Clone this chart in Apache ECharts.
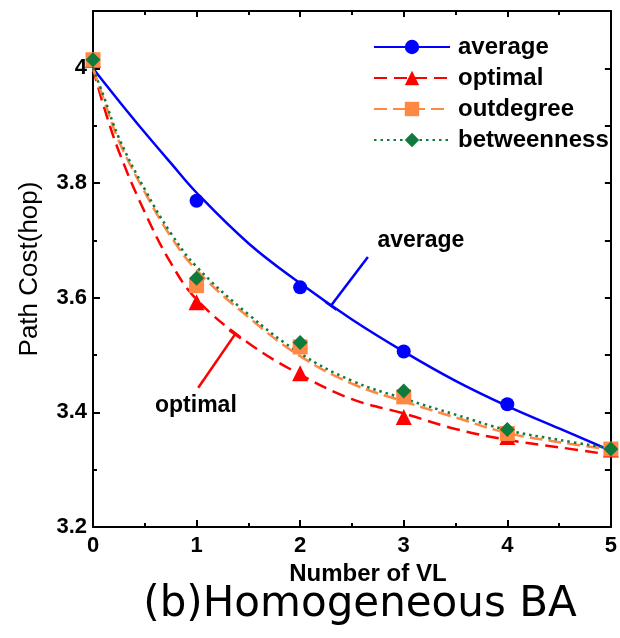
<!DOCTYPE html>
<html>
<head>
<meta charset="utf-8">
<script src="https://cdn.jsdelivr.net/npm/echarts@6/dist/echarts.min.js"></script>
<style>
  html, body { margin: 0; padding: 0; background: #fff; }
  #chart { width: 620px; height: 638px; }
</style>
</head>
<body>
<div id="chart"></div>
<script>
// fitted curves
var curveX = [0, 0.1, 0.25, 0.5, 0.75, 1, 1.5, 2, 2.5, 3, 3.5, 4, 4.5, 5];
var averageCurve     = [4.0, 3.977, 3.943, 3.888, 3.835, 3.783, 3.695, 3.625, 3.562, 3.506, 3.455, 3.411, 3.372, 3.333];
var optimalCurve     = [4.0, 3.936, 3.855, 3.749, 3.661, 3.597, 3.521, 3.466, 3.423, 3.398, 3.371, 3.352, 3.339, 3.326];
var outdegreeCurve   = [4.0, 3.948, 3.873, 3.784, 3.707, 3.648, 3.566, 3.498, 3.450, 3.419, 3.391, 3.364, 3.348, 3.335];
var betweennessCurve = [4.0, 3.953, 3.879, 3.789, 3.713, 3.654, 3.571, 3.503, 3.455, 3.424, 3.396, 3.369, 3.352, 3.337];

// measured points
var vlCount = [0, 1, 2, 3, 4, 5];
var averagePts     = [4.015, 3.769, 3.618, 3.506, 3.414, 3.336];
var optimalPts     = [4.015, 3.592, 3.468, 3.392, 3.357, 3.335];
var outdegreePts   = [4.015, 3.621, 3.514, 3.427, 3.363, 3.336];
var betweennessPts = [4.015, 3.634, 3.522, 3.437, 3.370, 3.336];

// ticks
var yMajorTicks = [3.2, 3.4, 3.6, 3.8, 4.0];
var yMinorTicks = [3.3, 3.5, 3.7, 3.9];
var yAllTicks = [3.2, 3.3, 3.4, 3.5, 3.6, 3.7, 3.8, 3.9, 4.0];

// callouts
var averageCallout = [[2.654, 3.671], [2.297, 3.586]];
var averageCalloutBar = [[2.243, 3.593], [2.351, 3.579]];
var optimalCallout = [[1.016, 3.443], [1.371, 3.536]];
var optimalCalloutBar = [[1.315, 3.543], [1.427, 3.529]];
var calloutText = ['average', 'optimal'];
var calloutPos = [[3.166, 3.699], [0.994, 3.412]];

var FONT = "'Liberation Sans', Arial, sans-serif";

function zip(xs, ys) {
  return xs.map(function (x, i) { return [x, ys[i]]; });
}

var seriesDefs = [
  { name: 'average', curve: averageCurve, pts: averagePts, color: '#0000ff', symbol: 'circle', size: 14, dash: 'solid' },
  { name: 'optimal', curve: optimalCurve, pts: optimalPts, color: '#ff0000', symbol: 'triangle', size: 16, dash: [13, 7] },
  { name: 'outdegree', curve: outdegreeCurve, pts: outdegreePts, color: '#ff8844', symbol: 'rect', size: 15, dash: [13, 6] },
  { name: 'betweenness', curve: betweennessCurve, pts: betweennessPts, color: '#0e7a3c', symbol: 'diamond', size: [15, 15], dash: [2.5, 4] }
];

var series = [];
seriesDefs.forEach(function (d) {
  series.push({
    name: d.name,
    type: 'line',
    data: zip(curveX, d.curve),
    smooth: 0.4,
    showSymbol: false,
    symbol: d.symbol,
    itemStyle: { color: d.color },
    lineStyle: { color: d.color, width: 2.5, type: d.dash },
    z: 2
  });
});
seriesDefs.forEach(function (d) {
  series.push({
    name: d.name,
    type: 'scatter',
    data: zip(vlCount, d.pts),
    symbol: d.symbol,
    symbolSize: d.size,
    itemStyle: { color: d.color, opacity: 1 },
    clip: false,
    z: 4
  });
});

function calloutLine(data, color) {
  return {
    type: 'line', data: data, symbol: 'none', silent: true,
    lineStyle: { color: color, width: 2.5, type: 'solid' }, z: 3
  };
}
series.push(calloutLine(averageCallout, '#0000ff'));
series.push(calloutLine(averageCalloutBar, '#0000ff'));
series.push(calloutLine(optimalCallout, '#ff0000'));
series.push(calloutLine(optimalCalloutBar, '#ff0000'));
series.push({
  type: 'scatter',
  silent: true,
  symbolSize: 0.1,
  itemStyle: { color: '#000' },
  data: calloutText.map(function (t, i) { return { name: t, value: calloutPos[i] }; }),
  label: {
    show: true, position: [0, 0], formatter: '{b}',
    color: '#000000', opacity: 1, fontFamily: FONT, fontWeight: 'bold', fontSize: 23,
    align: 'center', verticalAlign: 'middle'
  },
  z: 5
});

var axisLineStyle = { show: true, onZero: false, lineStyle: { color: '#000', width: 2 } };

var chart = echarts.init(document.getElementById('chart'));
chart.setOption({
  animation: false,
  backgroundColor: '#fff',
  title: {
    text: '(b)Homogeneous BA',
    left: 355,
    textAlign: 'center',
    top: 579,
    textStyle: { fontFamily: "'DejaVu Sans', sans-serif", fontWeight: 'normal', fontSize: 42, color: '#000' }
  },
  legend: {
    data: ['average', 'optimal', 'outdegree', 'betweenness'],
    orient: 'vertical',
    left: 368,
    top: 30,
    itemWidth: 76,
    itemHeight: 18,
    itemGap: 7,
    textStyle: { fontFamily: FONT, fontWeight: 'bold', fontSize: 24, color: '#000', lineHeight: 24, padding: [0, 0, 0, 3] }
  },
  grid: { left: 93, top: 11, right: 9, bottom: 111, containLabel: false },
  xAxis: [
    {
      type: 'value', position: 'bottom', min: 0, max: 5, interval: 1,
      name: 'Number of VL', nameLocation: 'middle', nameGap: 33,
      nameTextStyle: { fontFamily: FONT, fontWeight: 'bold', fontSize: 24, color: '#000', padding: [0, 0, 0, 32] },
      axisLine: axisLineStyle,
      axisTick: { inside: true, length: 7, lineStyle: { color: '#000', width: 2 } },
      minorTick: { show: true, splitNumber: 2, length: 4, lineStyle: { color: '#000', width: 2 } },
      axisLabel: { margin: 8, fontFamily: FONT, fontWeight: 'bold', fontSize: 22, color: '#000' },
      splitLine: { show: false }
    },
    {
      type: 'value', position: 'top', min: 0, max: 5, interval: 1,
      axisLine: axisLineStyle,
      axisTick: { inside: true, length: 6, lineStyle: { color: '#000', width: 2 } },
      minorTick: { show: true, splitNumber: 2, length: 4, lineStyle: { color: '#000', width: 2 } },
      axisLabel: { show: false },
      splitLine: { show: false }
    }
  ],
  yAxis: [
    {
      type: 'value', position: 'left', min: 3.2, max: 4.1,
      name: 'Path Cost(hop)', nameLocation: 'middle', nameGap: 50, nameRotate: 90,
      nameTextStyle: { fontFamily: FONT, fontSize: 26, color: '#000' },
      axisLine: axisLineStyle,
      axisTick: { inside: true, length: 7, customValues: yMajorTicks, lineStyle: { color: '#000', width: 2 } },
      axisLabel: { margin: 6, customValues: yMajorTicks, fontFamily: FONT, fontWeight: 'bold', fontSize: 22, color: '#000' },
      splitLine: { show: false }
    },
    {
      type: 'value', position: 'left', min: 3.2, max: 4.1,
      axisLine: { show: false },
      axisTick: { inside: true, length: 4, customValues: yMinorTicks, lineStyle: { color: '#000', width: 2 } },
      axisLabel: { show: false },
      splitLine: { show: false }
    },
    {
      type: 'value', position: 'right', min: 3.2, max: 4.1,
      axisLine: axisLineStyle,
      axisTick: { inside: true, length: 6, customValues: yAllTicks, lineStyle: { color: '#000', width: 2 } },
      axisLabel: { show: false },
      splitLine: { show: false }
    }
  ],
  series: series
});
</script>
</body>
</html>
